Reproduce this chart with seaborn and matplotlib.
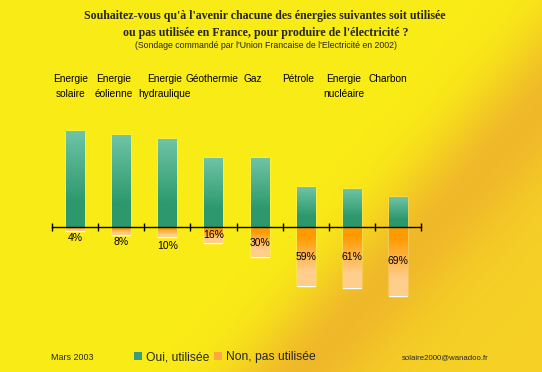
import numpy as np
import pandas as pd
import matplotlib
matplotlib.use("Agg")
import matplotlib.pyplot as plt
import seaborn as sns
from matplotlib.patches import Patch

# ---- data ----
categories = ["Energie\nsolaire", "Energie\néolienne", "Energie\nhydraulique", "Géothermie",
              "Gaz", "Pétrole", "Energie\nnucléaire", "Charbon"]
oui_values = [96, 92, 88, 69, 69, 40, 38, 30]
non_values = [4, 8, 10, 16, 30, 59, 61, 69]
non_labels = ["4%", "8%", "10%", "16%", "30%", "59%", "61%", "69%"]
legend_labels = ["Oui, utilisée", "Non, pas utilisée"]

title_lines = ["Souhaitez-vous qu'à l'avenir chacune des énergies suivantes soit utilisée",
               "ou pas utilisée en France, pour produire de l'électricité ?"]
subtitle = "(Sondage commandé par l'Union Francaise de l'Electricité en 2002)"
footer_left = "Mars 2003"
footer_right = "solaire2000@wanadoo.fr"

# ---- layout styles (pixels) ----
cat_label_dx = [-4.3, -7.5, -3, -1.4, -6.6, -7.8, -8, -10]
pct_label_dy = [11, 15, 19, 8, 16, 30, 30, 34]

sns.set_theme(style="white")
plt.rcParams["font.family"] = ["Liberation Sans", "DejaVu Sans"]

W, H = 542, 372
fig = plt.figure(figsize=(W / 100, H / 100), dpi=100)

# ---- background gradient ----
bg = fig.add_axes([0, 0, 1, 1], zorder=0)
yy, xx = np.mgrid[0:H, 0:W].astype(float)
p0 = np.array([500.0, 150.0]); p1 = np.array([330.0, 340.0])
dvec = (p1 - p0) / np.linalg.norm(p1 - p0)
nvec = np.array([dvec[1], -dvec[0]])  # points to lower right
s = (xx - p0[0]) * nvec[0] + (yy - p0[1]) * nvec[1]
yellow = np.array([250, 236, 22]) / 255.0
gold = np.array([246, 208, 38]) / 255.0
orange = np.array([238, 178, 44]) / 255.0
wg = 1 / (1 + np.exp(-s / 25.0))
base = yellow[None, None, :] * (1 - wg[..., None]) + gold[None, None, :] * wg[..., None]
ao = 0.85 * np.exp(-(s / 55.0) ** 2)
img = base * (1 - ao[..., None]) + orange[None, None, :] * ao[..., None]
bg.imshow(np.clip(img, 0, 1), extent=[0, W, H, 0], aspect="auto")
bg.set_xlim(0, W); bg.set_ylim(H, 0)
bg.axis("off")

# ---- main axes ----
x0, x1 = 51.7, 421.3
ytop, ybot, yaxis = 110, 310, 227
ax = fig.add_axes([x0 / W, (H - ybot) / H, (x1 - x0) / W, (ybot - ytop) / H], zorder=1)
ax.patch.set_alpha(0)

df = pd.DataFrame({"cat": categories, "oui": oui_values,
                   "non": [-v for v in non_values]})
sns.barplot(data=df, x="cat", y="oui", color="#3a9f78", width=0.39, ax=ax,
            saturation=1, zorder=2)
sns.barplot(data=df, x="cat", y="non", color="#ffa020", width=0.39, ax=ax,
            saturation=1, zorder=2)

ax.set_xlim(-0.5, 7.5)
ax.set_ylim(-(ybot - yaxis), yaxis - ytop)

# gradients clipped to each bar
green_top = np.array([110, 196, 166]) / 255.0
green_bot = np.array([44, 152, 108]) / 255.0
or_top = np.array([255, 154, 0]) / 255.0
or_bot = np.array([255, 206, 140]) / 255.0
for p in list(ax.patches):
    bx, by = p.get_x(), p.get_y()
    bw, bh = p.get_width(), p.get_height()
    ylo, yhi = min(by, by + bh), max(by, by + bh)
    n = 64
    t = np.linspace(0, 1, n)[:, None]
    if yhi > 0.01:
        tt = np.clip(t / 0.75, 0, 1)
        cols = green_top * (1 - tt) + green_bot * tt
    else:
        tt = np.clip((t - 0.15) / 0.6, 0, 1)
        cols = or_top * (1 - tt) + or_bot * tt
    grad = np.repeat(cols[:, None, :], 2, axis=1)
    im = ax.imshow(grad, extent=[bx, bx + bw, ylo, yhi], origin="upper",
                   aspect="auto", zorder=2.5)
    im.set_clip_path(p)
ax.set_xlim(-0.5, 7.5)
ax.set_ylim(-(ybot - yaxis), yaxis - ytop)

# axis styling
for sp in ["top", "right", "left"]:
    ax.spines[sp].set_visible(False)
ax.spines["bottom"].set_position(("data", 0))
ax.spines["bottom"].set_color("black")
ax.spines["bottom"].set_linewidth(1.0)
ax.spines["bottom"].set_zorder(3)
ax.set_xticks([k - 0.5 for k in range(len(categories) + 1)])
ax.set_xticklabels([])
ax.tick_params(axis="x", direction="inout", length=6, width=1, color="black", bottom=True)
ax.set_yticks([])
ax.set_xlabel(""); ax.set_ylabel("")
ax.grid(False)

# percent labels for "non"
for i, (lab, dy) in enumerate(zip(non_labels, pct_label_dy)):
    ax.text(i, -dy, lab, ha="center", va="center",
            fontsize=7.5, color="black", zorder=4)

# category labels
for i, (c, dx) in enumerate(zip(categories, cat_label_dx)):
    fig.text((x0 + (i + 0.5) * (x1 - x0) / 8 + dx) / W, 1 - 74 / H, c,
             ha="center", va="top", fontsize=7.3, linespacing=1.6, color="black")

# titles
fig.text(265 / W, 1 - 16 / H, title_lines[0], ha="center", va="center",
         fontsize=8.6, fontweight="bold", family="Liberation Serif")
fig.text(266 / W, 1 - 33 / H, title_lines[1], ha="center", va="center",
         fontsize=8.6, fontweight="bold", family="Liberation Serif")
fig.text(266 / W, 1 - 45 / H, subtitle, ha="center", va="center", fontsize=6.3)

# footer
fig.text(51 / W, 1 - 358 / H, footer_left, ha="left", va="center", fontsize=6.4)
fig.text(489 / W, 1 - 358 / H, footer_right, ha="right", va="center", fontsize=5.6)
handles = [Patch(facecolor="#3a9f78", edgecolor="none"),
           Patch(facecolor="#ffa840", edgecolor="none")]
fig.legend(handles, legend_labels, loc="center left", bbox_to_anchor=(134 / W, 1 - 357 / H),
           ncol=2, frameon=False, fontsize=8.7, handlelength=0.7, handleheight=0.7,
           handletextpad=0.3, columnspacing=0.35, borderaxespad=0, borderpad=0)

fig.savefig("out.png", dpi=100)
